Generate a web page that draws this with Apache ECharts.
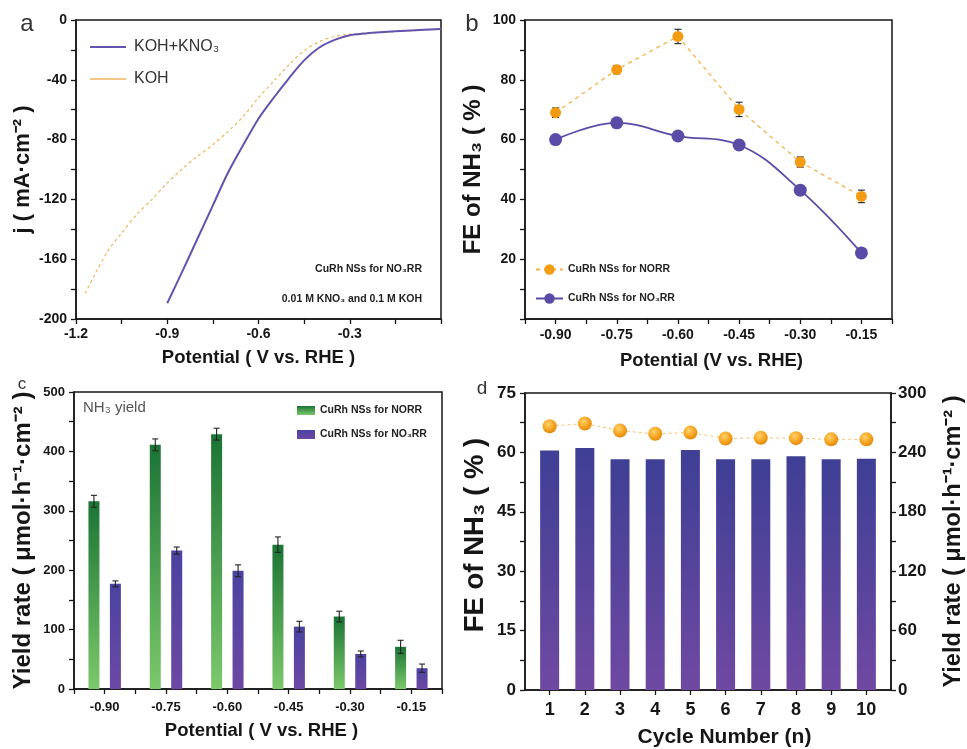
<!DOCTYPE html>
<html>
<head>
<meta charset="utf-8">
<script src="https://cdn.jsdelivr.net/npm/echarts@6/dist/echarts.min.js"></script>
<style>
  html, body { margin: 0; padding: 0; background: #ffffff; }
  #chart { width: 967px; height: 749px; }
</style>
</head>
<body>
<div id="chart"></div>
<script>
// ---------- (a) LSV curves ----------
const lsvPotentialKNO3 = [-0.90, -0.85, -0.80, -0.75, -0.70, -0.65, -0.60, -0.55, -0.50, -0.45, -0.40, -0.35, -0.30, -0.25, -0.20, -0.10, 0.00];
const lsvCurrentKNO3   = [-189.5, -168, -146, -124, -102, -83.5, -66, -52, -39, -27, -18.4, -13.3, -10.2, -9, -8.2, -7, -6];
const lsvPotentialKOH  = [-1.17, -1.10, -1.05, -1.00, -0.95, -0.90, -0.85, -0.80, -0.75, -0.70, -0.65, -0.60, -0.55, -0.50, -0.45, -0.40, -0.35, -0.30, -0.20, -0.10, 0.00];
const lsvCurrentKOH    = [-183, -156, -142.5, -130, -120, -109, -99.5, -91, -83.5, -74.5, -64.5, -52, -41, -30, -20.5, -14.5, -11, -9.5, -8.3, -7.2, -6.2];
const lsvXTickLabels = [-1.2, -0.9, -0.6, -0.3];
const lsvYTickLabels = [0, -40, -80, -120, -160, -200];

// ---------- (b) Faradaic efficiency vs potential ----------
const fePotential = [-0.90, -0.75, -0.60, -0.45, -0.30, -0.15];
const feNORR      = [69, 83.4, 94.5, 70.1, 52.5, 41];
const feNORRErr   = [1.6, 1.4, 2.4, 2.4, 1.7, 2.1];
const feNO3RR     = [60, 65.6, 61.2, 58.2, 43.1, 22.1];
const potentialTickLabels = [-0.90, -0.75, -0.60, -0.45, -0.30, -0.15];
const feYTickLabels = [20, 40, 60, 80, 100];

// ---------- (c) NH3 yield rate vs potential ----------
const yieldPotential  = [-0.90, -0.75, -0.60, -0.45, -0.30, -0.15];
const yieldNORR       = [316, 411, 429, 243, 122, 71];
const yieldNORRErr    = [10, 10, 10, 13, 9, 11];
const yieldNO3RR      = [177, 233, 199, 105, 59, 35];
const yieldNO3RRErr   = [5, 6, 10, 9, 5, 7];
const yieldYTickLabels = [0, 100, 200, 300, 400, 500];

// ---------- (d) cycling stability ----------
const cycleNumber = [1, 2, 3, 4, 5, 6, 7, 8, 9, 10];
const cycleYield  = [242, 244.5, 233, 233, 242.5, 233, 233, 236, 233, 233.5];
const cycleFE     = [66.6, 67.3, 65.5, 64.7, 65.0, 63.5, 63.7, 63.6, 63.3, 63.3];
const cycleFETickLabels = [0, 15, 30, 45, 60, 75];
const cycleYieldTickLabels = [0, 60, 120, 180, 240, 300];

// legend text for each series name
const legendText = {
  'NORR FE': 'CuRh NSs for NORR',
  'NO3RR FE': 'CuRh NSs for NO₃RR',
  'NORR yield': 'CuRh NSs for NORR',
  'NO3RR yield': 'CuRh NSs for NO₃RR'
};

const SANS = "'Liberation Sans', Arial, Helvetica, sans-serif";
const INK = '#161616';
const ORANGE = '#f39c12';
const PURPLE = '#5a4ba6';

const zip = (xs, ys) => xs.map((x, i) => [x, ys[i]]);
const zip3 = (xs, ys, es) => xs.map((x, i) => [x, ys[i], es[i]]);

// show a label only on the listed tick values
function labelsAt(list, digits) {
  return function (v) {
    const hit = list.some(t => Math.abs(t - v) < 1e-6);
    if (!hit) return '';
    if (Math.abs(v) < 1e-9) return '0';
    return v.toFixed(digits);
  };
}

function axis(extra) {
  const base = {
    type: 'value',
    axisLine: { show: true, onZero: false, lineStyle: { color: INK, width: 1.5 } },
    axisTick: { show: true, inside: false, length: 5, lineStyle: { color: INK, width: 1.3 } },
    splitLine: { show: false },
    axisLabel: { color: INK, fontFamily: SANS, fontWeight: 'bold', fontSize: 14, margin: 8 },
    nameLocation: 'middle',
    nameTextStyle: { color: INK, fontFamily: SANS, fontWeight: 'bold', fontSize: 18.5 }
  };
  const out = Object.assign({}, base, extra);
  ['axisLine', 'axisTick', 'axisLabel', 'nameTextStyle'].forEach(k => {
    if (extra[k]) out[k] = Object.assign({}, base[k], extra[k]);
  });
  return out;
}

// I-shaped error bar drawn through the axis scales
function errorBars(offsetPx, capHalf) {
  return function (params, api) {
    const x = api.value(0), y = api.value(1), e = api.value(2);
    const hi = api.coord([x, y + e]);
    const lo = api.coord([x, y - e]);
    const cx = hi[0] + offsetPx;
    const style = { stroke: '#222', lineWidth: 1.1 };
    return {
      type: 'group',
      children: [
        { type: 'line', shape: { x1: cx, y1: hi[1], x2: cx, y2: lo[1] }, style },
        { type: 'line', shape: { x1: cx - capHalf, y1: hi[1], x2: cx + capHalf, y2: hi[1] }, style },
        { type: 'line', shape: { x1: cx - capHalf, y1: lo[1], x2: cx + capHalf, y2: lo[1] }, style }
      ]
    };
  };
}

const gradient = (top, bottom) => new echarts.graphic.LinearGradient(0, 0, 0, 1, [
  { offset: 0, color: top }, { offset: 1, color: bottom }
]);

const C_BAR_W = 11;
const C_BAR_GAP = 0.95;
const C_OFFSET = C_BAR_W * (1 + C_BAR_GAP) / 2;

const gridStyle = { show: true, borderColor: INK, borderWidth: 1.5, backgroundColor: 'transparent' };

const textStyleAt = (font, fill, align) => ({
  font, fill, align, textAlign: align, verticalAlign: 'middle', textVerticalAlign: 'middle'
});

const chart = echarts.init(document.getElementById('chart'), null, { renderer: 'canvas' });

chart.setOption({
  animation: false,
  backgroundColor: '#ffffff',
  grid: [
    Object.assign({ left: 76, top: 20, width: 365, height: 299 }, gridStyle),
    Object.assign({ left: 525, top: 20, width: 367, height: 299 }, gridStyle),
    Object.assign({ left: 74, top: 392, width: 368, height: 297 }, gridStyle),
    Object.assign({ left: 525, top: 393, width: 367, height: 297 }, gridStyle)
  ],
  xAxis: [
    axis({ gridIndex: 0, min: -1.2, max: 0, interval: 0.15,
      axisLabel: { formatter: labelsAt(lsvXTickLabels, 1), margin: 8 },
      name: 'Potential ( V vs. RHE )', nameGap: 29 }),
    axis({ gridIndex: 1, min: -0.975, max: -0.075, interval: 0.075,
      axisLabel: { formatter: labelsAt(potentialTickLabels, 2), margin: 9 },
      name: 'Potential (V vs. RHE)', nameGap: 32,
      nameTextStyle: { padding: [0, 0, 0, 6] } }),
    axis({ gridIndex: 2, min: -0.975, max: -0.075, interval: 0.075,
      axisLabel: { formatter: labelsAt(potentialTickLabels, 2), fontSize: 13, margin: 12 },
      name: 'Potential ( V vs. RHE )', nameGap: 32,
      nameTextStyle: { padding: [0, 0, 0, 7] } }),
    axis({ gridIndex: 3, min: 0.3, max: 10.7, splitNumber: 10,
      axisLabel: { fontSize: 18, showMinLabel: false, showMaxLabel: false, margin: 11,
        formatter: v => Number.isInteger(Math.round(v * 1e6) / 1e6) ? String(Math.round(v)) : '' },
      name: 'Cycle Number (n)', nameGap: 37,
      nameTextStyle: { fontSize: 21, padding: [0, 0, 0, 33] } })
  ],
  yAxis: [
    axis({ gridIndex: 0, min: -200, max: 0, interval: 20,
      axisLabel: { formatter: labelsAt(lsvYTickLabels, 0), margin: 9 },
      name: 'j ( mA·cm⁻² )', nameRotate: 90, nameGap: 42,
      nameTextStyle: { fontSize: 22 } }),
    axis({ gridIndex: 1, min: 0, max: 100, interval: 10,
      axisLabel: { formatter: labelsAt(feYTickLabels, 0), margin: 9 },
      name: 'FE of NH₃ ( % )', nameRotate: 90, nameGap: 40,
      nameTextStyle: { fontSize: 24 } }),
    axis({ gridIndex: 2, min: 0, max: 500, interval: 50,
      axisLabel: { formatter: labelsAt(yieldYTickLabels, 0), fontSize: 13, margin: 9 },
      name: 'Yield rate ( μmol·h⁻¹·cm⁻² )', nameRotate: 90, nameGap: 39,
      nameTextStyle: { fontSize: 24 } }),
    axis({ gridIndex: 3, min: 0, max: 75, interval: 7.5,
      axisLabel: { formatter: labelsAt(cycleFETickLabels, 0), fontSize: 17, margin: 9 },
      name: 'FE of NH₃ ( % )', nameRotate: 90, nameGap: 36,
      nameTextStyle: { fontSize: 27.5, padding: [0, 0, 0, 13] } }),
    axis({ gridIndex: 3, position: 'right', min: 0, max: 300, interval: 30,
      axisLabel: { formatter: labelsAt(cycleYieldTickLabels, 0), fontSize: 17, margin: 7 },
      name: 'Yield rate ( μmol·h⁻¹·cm⁻² )', nameRotate: 90, nameGap: 51,
      nameTextStyle: { fontSize: 23.5 } })
  ],
  legend: [
    {
      data: [
        { name: 'KOH+KNO₃', itemStyle: { opacity: 0 } },
        { name: 'KOH', itemStyle: { opacity: 0 }, lineStyle: { type: 'solid', width: 1.5 } }
      ],
      orient: 'vertical', left: 84, top: 34, itemWidth: 36, itemHeight: 16, itemGap: 16,
      selectedMode: false,
      textStyle: { fontFamily: SANS, fontSize: 16, color: '#333', padding: [0, 0, 0, 3] }
    },
    {
      data: ['NORR FE', 'NO3RR FE'], formatter: n => legendText[n],
      orient: 'vertical', left: 530, top: 259, itemWidth: 27, itemHeight: 13, itemGap: 18,
      selectedMode: false,
      textStyle: { fontFamily: SANS, fontWeight: 'bold', fontSize: 10.5, color: '#222' }
    },
    {
      data: ['NORR yield', 'NO3RR yield'], formatter: n => legendText[n],
      icon: 'rect', orient: 'vertical', left: 292, top: 400, itemWidth: 18, itemHeight: 9, itemGap: 13,
      selectedMode: false,
      textStyle: { fontFamily: SANS, fontWeight: 'bold', fontSize: 10.5, color: '#222' }
    }
  ],
  series: [
    // (a)
    { name: 'KOH', type: 'line', xAxisIndex: 0, yAxisIndex: 0, symbol: 'none', smooth: 0.3,
      data: zip(lsvPotentialKOH, lsvCurrentKOH),
      lineStyle: { color: '#f2b35f', width: 1.2, type: [3, 3] }, itemStyle: { color: '#f2b35f' } },
    { name: 'KOH+KNO₃', type: 'line', xAxisIndex: 0, yAxisIndex: 0, symbol: 'none', smooth: 0.3,
      data: zip(lsvPotentialKNO3, lsvCurrentKNO3),
      lineStyle: { color: '#6353ad', width: 2 }, itemStyle: { color: '#6353ad' } },

    // (b)
    { name: 'NORR FE err', type: 'custom', xAxisIndex: 1, yAxisIndex: 1, z: 3,
      renderItem: errorBars(0, 3.5), data: zip3(fePotential, feNORR, feNORRErr), encode: { x: 0, y: 1 } },
    { name: 'NORR FE', type: 'line', xAxisIndex: 1, yAxisIndex: 1, z: 4,
      data: zip(fePotential, feNORR), symbol: 'circle', symbolSize: 11,
      lineStyle: { color: '#f4b24a', width: 1.3, type: [4, 4] }, itemStyle: { color: ORANGE } },
    { name: 'NO3RR FE', type: 'line', xAxisIndex: 1, yAxisIndex: 1, z: 4,
      data: zip(fePotential, feNO3RR), symbol: 'circle', symbolSize: 13, smooth: 0.4,
      lineStyle: { color: PURPLE, width: 1.8 }, itemStyle: { color: PURPLE } },

    // (c)
    { name: 'NORR yield', type: 'bar', xAxisIndex: 2, yAxisIndex: 2,
      data: zip(yieldPotential, yieldNORR), barWidth: C_BAR_W, barGap: (C_BAR_GAP * 100) + '%',
      itemStyle: { color: gradient('#1b7435', '#7cc96b') } },
    { name: 'NO3RR yield', type: 'bar', xAxisIndex: 2, yAxisIndex: 2,
      data: zip(yieldPotential, yieldNO3RR), barWidth: C_BAR_W, barGap: (C_BAR_GAP * 100) + '%',
      itemStyle: { color: gradient('#4a43a0', '#6c48a3') } },
    { name: 'NORR yield err', type: 'custom', xAxisIndex: 2, yAxisIndex: 2, z: 5,
      renderItem: errorBars(-C_OFFSET, 3), data: zip3(yieldPotential, yieldNORR, yieldNORRErr), encode: { x: 0, y: 1 } },
    { name: 'NO3RR yield err', type: 'custom', xAxisIndex: 2, yAxisIndex: 2, z: 5,
      renderItem: errorBars(C_OFFSET, 3), data: zip3(yieldPotential, yieldNO3RR, yieldNO3RRErr), encode: { x: 0, y: 1 } },

    // (d)
    { name: 'Cycle yield', type: 'bar', xAxisIndex: 3, yAxisIndex: 4,
      data: zip(cycleNumber, cycleYield), barWidth: 19,
      itemStyle: { color: gradient('#3e3f95', '#6f49a2') } },
    { name: 'Cycle FE', type: 'line', xAxisIndex: 3, yAxisIndex: 3, z: 4,
      data: zip(cycleNumber, cycleFE), symbol: 'circle', symbolSize: 14,
      lineStyle: { color: '#f5c47a', width: 1, type: [3, 3] },
      itemStyle: { color: new echarts.graphic.RadialGradient(0.4, 0.35, 0.65, [
        { offset: 0, color: '#ffd36b' }, { offset: 0.6, color: '#f6a623' }, { offset: 1, color: '#e38a0c' }
      ]) } }
  ],
  graphic: [
    { type: 'text', x: 27, y: 24, style: Object.assign({ text: 'a' }, textStyleAt(`24px ${SANS}`, '#333', 'center')) },
    { type: 'text', x: 472, y: 24, style: Object.assign({ text: 'b' }, textStyleAt(`24px ${SANS}`, '#333', 'center')) },
    { type: 'text', x: 22, y: 384, style: Object.assign({ text: 'c' }, textStyleAt(`17px ${SANS}`, '#333', 'center')) },
    { type: 'text', x: 482, y: 389, style: Object.assign({ text: 'd' }, textStyleAt(`19px ${SANS}`, '#333', 'center')) },
    { type: 'text', x: 422, y: 269, style: Object.assign({ text: 'CuRh NSs for NO₃RR' }, textStyleAt(`bold 10.5px ${SANS}`, '#222', 'right')) },
    { type: 'text', x: 422, y: 299, style: Object.assign({ text: '0.01 M KNO₃ and 0.1 M KOH' }, textStyleAt(`bold 10.5px ${SANS}`, '#222', 'right')) },
    { type: 'text', x: 83, y: 408, style: Object.assign({ text: 'NH₃ yield' }, textStyleAt(`15px ${SANS}`, '#555', 'left')) }
  ]
});
</script>
</body>
</html>
